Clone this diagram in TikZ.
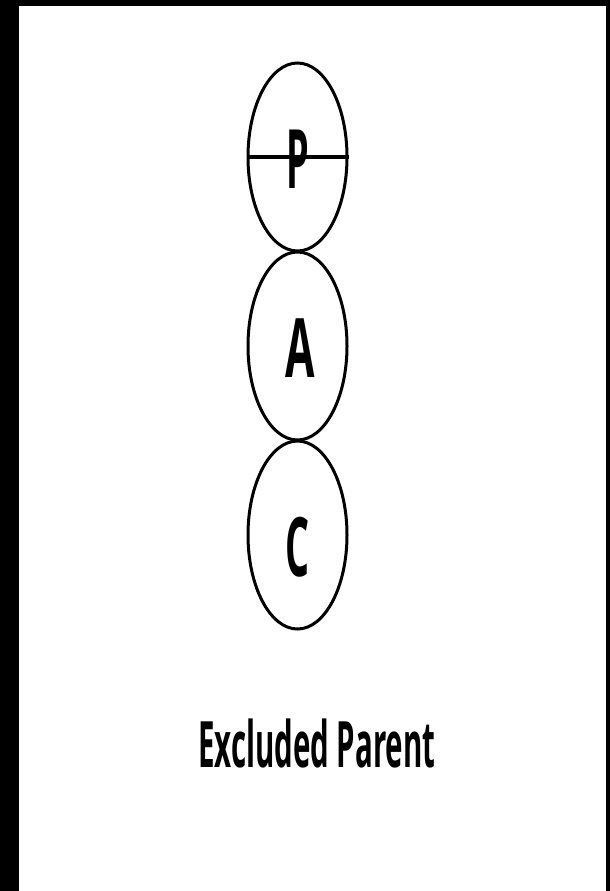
\documentclass[tikz,border=0pt]{standalone}
\usepackage{fontspec}
\setmainfont{Open Sans}
\usetikzlibrary{shapes.geometric}
\tikzset{
  oval/.style={draw=black, line width=3pt, ellipse, minimum width=99pt, minimum height=188pt, inner sep=0pt},
  letter/.style={inner sep=0pt, anchor=base, font=\fontsize{82pt}{82pt}\selectfont\bfseries},
  caption/.style={inner sep=0pt, anchor=base west, font=\fontsize{64pt}{64pt}\selectfont\bfseries}
}
\begin{document}
\begin{tikzpicture}[x=1pt, y=-1pt]
  \useasboundingbox (0,0) rectangle (610,891);
  \fill[black] (0,0) rectangle (610,891);
  \fill[white] (19,6) rectangle (606,891);
  \node[oval] (P) at (297.5,157) {};
  \node[oval] (A) at (297.5,346) {};
  \node[oval] (C) at (297.5,535) {};
  \draw[line width=3.5pt] (P.west) -- (P.east);
  \node[letter] (lp) at (298,188) {\scalebox{0.44}[1]{P}};
  \node[letter] (la) at (300,377) {\scalebox{0.52}[1]{A}};
  \node[letter] (lc) at (298,576) {\scalebox{0.46}[1]{C}};
  \node[caption] (cap) at (198,767) {\scalebox{0.46}[1]{Excluded Parent}};
\end{tikzpicture}
\end{document}
